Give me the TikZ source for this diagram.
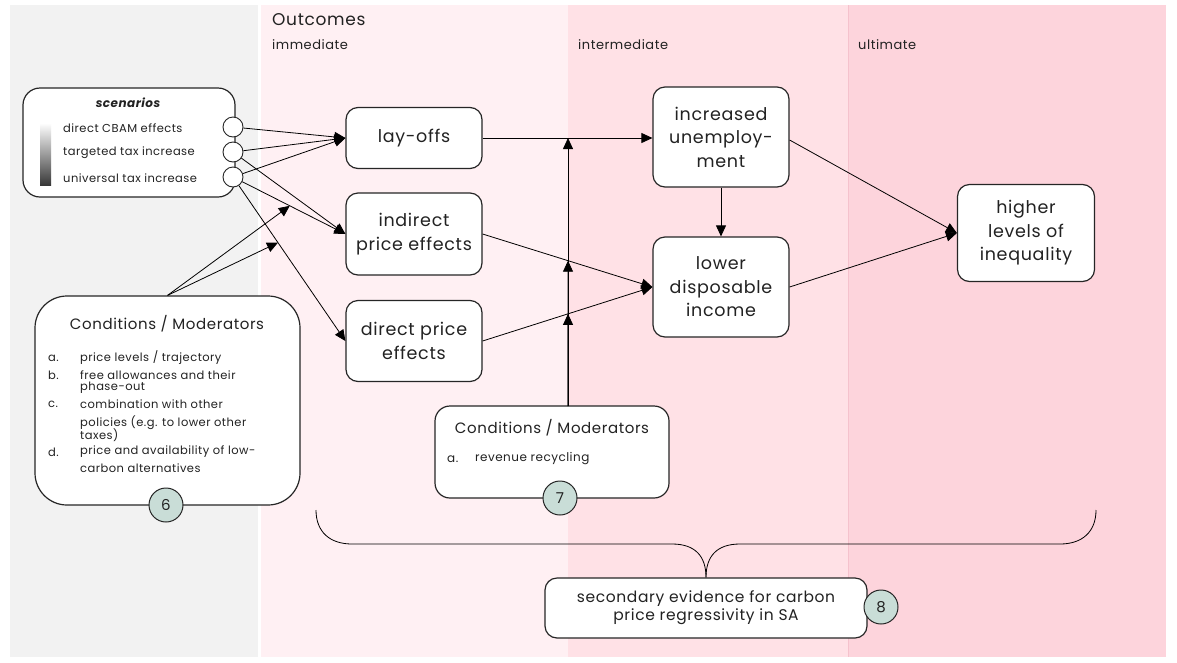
\documentclass[tikz,border=0pt]{standalone}
\usepackage{fontspec}
\setmainfont{Poppins}[LetterSpace=4]
\usetikzlibrary{arrows.meta,calc}

\definecolor{bandgray}{HTML}{F2F2F2}
\definecolor{bandA}{HTML}{FFF0F3}
\definecolor{bandB}{HTML}{FFE1E6}
\definecolor{bandC}{HTML}{FDD4DC}
\definecolor{bandline}{HTML}{F5C2CD}
\definecolor{ink}{HTML}{222222}
\definecolor{badge}{HTML}{C9DDD7}

\begin{document}
\begin{tikzpicture}[x=1pt,y=-1pt,
  every node/.style={text=ink},
  fs/.style 2 args={font=\fontsize{#1}{#2}\selectfont},
  outbox/.style={draw=black!85, line width=1.2pt, fill=white, rounded corners=12pt,
    align=center, inner sep=0pt, fs={17.5}{23.5}},
  condbox/.style={draw=black!85, line width=1.2pt, fill=white, inner sep=0pt},
  port/.style={circle, draw=black!85, line width=0.9pt, fill=white, minimum size=20pt, inner sep=0pt},
  badgenode/.style={circle, draw=black!85, line width=1pt, fill=badge, minimum size=34pt,
    inner sep=0pt, fs={15}{18}},
  arr/.style={-{Triangle[length=11pt,width=10pt]}, line width=0.8pt, draw=black},
  conn/.style={line width=0.8pt, draw=black},
  hdr/.style={anchor=west, inner sep=0pt},
  item/.style={anchor=west, inner sep=0pt, fs={11.5}{13}},
]
\useasboundingbox (0,0) rectangle (1177,662);

% background bands
\fill[bandgray] (10,5) rectangle (258,657);
\fill[bandA] (261,5) rectangle (568,657);
\fill[bandB] (568,5) rectangle (848,657);
\fill[bandC] (848,5) rectangle (1166,657);
\draw[bandline, line width=0.8pt] (848,5) -- (848,657);

% column headers
\node[hdr, fs={17}{20}] (hOut) at (272,20) {Outcomes};
\node[hdr, fs={13}{16}] (hImm) at (272,45) {immediate};
\node[hdr, fs={13}{16}] (hInt) at (578,45) {intermediate};
\node[hdr, fs={13}{16}] (hUlt) at (858,45) {ultimate};

% scenarios box
\node[condbox, rounded corners=17pt, minimum width=212pt, minimum height=109pt] (scen) at (129,142.5) {};
\node[font=\fontsize{12}{14}\selectfont\bfseries\itshape, inner sep=0pt] (scenT) at (128,103) {scenarios};
\shade[top color=white, bottom color=black!78] (40,123) rectangle (51,185);
\node[item] (sc1) at (63,128) {direct CBAM effects};
\node[item] (sc2) at (63,153) {targeted tax increase};
\node[item] (sc3) at (63,178) {universal tax increase};
\node[port] (s1) at (233,127) {};
\node[port] (s2) at (233,152) {};
\node[port] (s3) at (233,177) {};

% outcome boxes
\node[outbox, minimum width=136pt, minimum height=61pt] (lay) at (414,138) {lay-offs};
\node[outbox, minimum width=136pt, minimum height=82pt] (ind) at (414,234) {indirect\\price effects};
\node[outbox, minimum width=136pt, minimum height=81pt] (dir) at (414,341) {direct price\\effects};
\node[outbox, minimum width=136pt, minimum height=100pt] (unemp) at (721,137) {increased\\unemploy-\\ment};
\node[outbox, minimum width=136pt, minimum height=100pt] (ldi) at (721,287) {lower\\disposable\\income};
\node[outbox, minimum width=137pt, minimum height=97pt] (ineq) at (1026,233) {higher\\levels of\\inequality};

% conditions / moderators (left)
\node[condbox, rounded corners=32pt, minimum width=265pt, minimum height=209pt] (c1) at (167.5,400.5) {};
\node[fs={15}{18}, inner sep=0pt] (c1T) at (167,324) {Conditions / Moderators};
\node[item] (c1a) at (48,358) {a.};
\node[item] (c1aT) at (80,358) {price levels / trajectory};
\node[item] (c1b) at (48,375) {b.};
\node[item] (c1bT) at (80,375) {free allowances and their};
\node[item] (c1bU) at (80,388) {phase-out};
\node[item] (c1c) at (48,404) {c.};
\node[item] (c1cT) at (80,404) {combination with other};
\node[item] (c1cU) at (80,423) {policies (e.g. to lower other};
\node[item] (c1cV) at (80,435) {taxes)};
\node[item] (c1d) at (48,452) {d.};
\node[item] (c1dT) at (80,452) {price and availability of low-};
\node[item] (c1dU) at (80,468) {carbon alternatives};
\node[badgenode] (b6) at (166,505) {6};

% conditions / moderators (middle)
\node[condbox, rounded corners=15pt, minimum width=234pt, minimum height=92pt] (c2) at (552,452) {};
\node[fs={15}{18}, inner sep=0pt] (c2T) at (552,428) {Conditions / Moderators};
\node[item, fs={12}{14}] (c2a) at (447,459) {a.};
\node[item, fs={12}{14}] (c2aT) at (475,459) {revenue recycling};
\node[badgenode] (b7) at (560,498) {7};

% secondary evidence
\node[outbox, fs={15.5}{18}, minimum width=322pt, minimum height=60pt] (sec) at (706,608) {secondary evidence for carbon\\price regressivity in SA};
\node[badgenode] (b8) at (881,607) {8};

% scenario links
\draw[arr] (s1) -- (lay.west);
\draw[arr] (s2) -- (lay.west);
\draw[arr] (s3) -- (lay.west);
\draw[arr] (s2) -- (ind.west);
\draw[arr] (s3) -- (ind.west);
\draw[arr] (s3) -- (dir.west);

% moderators acting on scenario links
\coordinate (m1) at ($(s3)!0.505!(ind.west)$);
\coordinate (m2) at ($(s3)!0.40!(dir.west)$);
\draw[arr] (c1.north) -- (m1);
\draw[arr] (c1.north) -- (m2);

% outcome chain
\draw[arr] (lay.east) -- (lay.east -| unemp.west);
\draw[arr] (ind.east) -- (ldi.west);
\draw[arr] (dir.east) -- (ldi.west);
\draw[arr] (unemp.south) -- (ldi.north);
\draw[arr] ($(unemp.east)+(0,3)$) -- (ineq.west);
\draw[arr] (ldi.east) -- (ineq.west);

% revenue recycling acting on the chain
\coordinate (v0) at (568,406);
\coordinate (vtop) at (v0 |- lay.east);
\draw[arr] (v0) -- (vtop);
\draw[arr] (v0) -- (intersection of v0--vtop and ind.east--ldi.west);
\draw[arr] (v0) -- (intersection of v0--vtop and dir.east--ldi.west);

% brace gathering the outcomes
\coordinate (brL) at (316,510);
\coordinate (brR) at (1096,510);
\draw[conn] (brL) .. controls (316,532) and (330,544) .. (352,544) -- (672,544)
  .. controls (695,544) and (706,556) .. (sec.north);
\draw[conn] (sec.north) .. controls (706,556) and (717,544) .. (740,544) -- (1060,544)
  .. controls (1082,544) and (1096,532) .. (brR);
\end{tikzpicture}
\end{document}
